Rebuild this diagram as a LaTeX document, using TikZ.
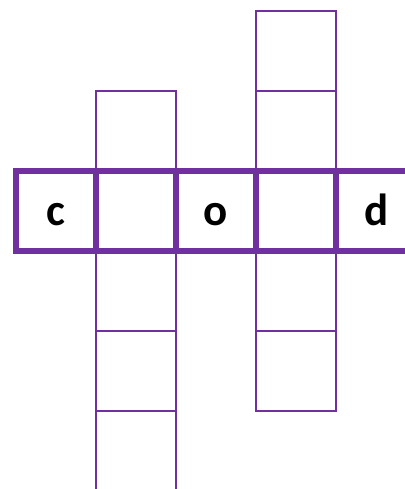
\documentclass[tikz,border=0pt]{standalone}
\usepackage{fontspec}
\setmainfont{Carlito}
\usepackage{xcolor}
\usetikzlibrary{positioning}
\definecolor{grape}{HTML}{7030A0}

\begin{document}
\begin{tikzpicture}[x=0.025cm,y=-0.025cm,
  box/.style={draw=grape,line width=1.5pt,minimum size=2cm,inner sep=0pt,outer sep=0pt},
  wbox/.style={box,line width=4pt,text height=24pt,text depth=3pt,
               font=\bfseries\fontsize{32}{32}\selectfont}]
  \useasboundingbox (0,0) rectangle (405,489);
  \clip (0,0) rectangle (405,489);
  % down words
  \foreach \y [count=\i] in {131,291,371,451} \node[box] (l\i) at (136,\y) {};
  \foreach \y [count=\i] in {51,131,291,371} \node[box] (r\i) at (296,\y) {};
  % across word
  \node[wbox] (w1) at (56,211) {c};
  \node[wbox,right=0pt of w1] (w2) {};
  \node[wbox,right=0pt of w2] (w3) {o};
  \node[wbox,right=0pt of w3] (w4) {};
  \node[wbox,right=0pt of w4] (w5) {d};
  \draw[grape,line width=4pt,rounded corners=2pt] (w1.north west) rectangle (w5.south east);
\end{tikzpicture}
\end{document}
